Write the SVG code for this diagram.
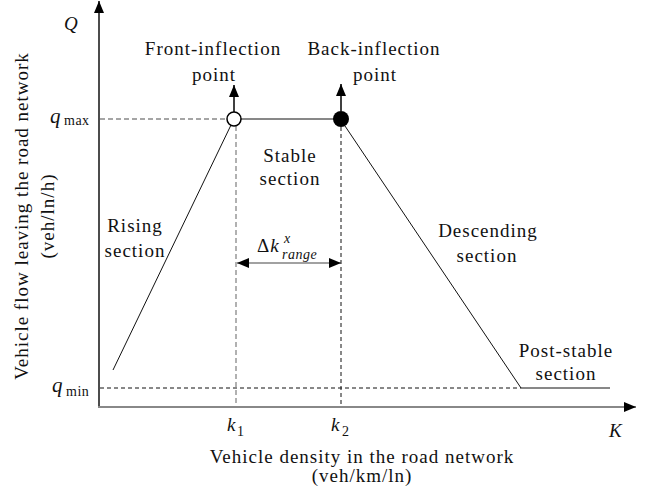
<svg xmlns="http://www.w3.org/2000/svg" width="656" height="496" viewBox="0 0 656 496">
<style>
text{font-family:"Liberation Serif","Times New Roman",serif;font-size:19px;letter-spacing:1px;fill:#111}
.c{text-anchor:middle}
.it{font-style:italic}
.sub{font-size:14px;letter-spacing:0.5px}
.ln{stroke:#111;stroke-width:1;fill:none}
.dg{stroke:#888;stroke-width:1.3;stroke-dasharray:5 3;fill:none}
.dk{stroke:#111;stroke-width:1;stroke-dasharray:4 3;fill:none}
</style>
<defs>
<marker id="ah" viewBox="0 0 12 10" refX="12" refY="5" markerWidth="12" markerHeight="10" markerUnits="userSpaceOnUse" orient="auto-start-reverse">
<path d="M0,0L12,5L0,10Z" fill="#000"/>
</marker>
</defs>
<g id="axes">
<line x1="99" y1="407" x2="99" y2="1" stroke="#111" stroke-width="1.5" marker-end="url(#ah)"/>
<line x1="98" y1="407" x2="636" y2="407" stroke="#888" stroke-width="2" marker-end="url(#ah)"/>
</g>
<g id="connectors">
<line class="dg" x1="100" y1="119" x2="227" y2="119"/>
<line class="dg" x1="236" y1="126" x2="236" y2="406"/>
<line class="dk" x1="341" y1="127" x2="341" y2="406"/>
<line class="dk" x1="100" y1="388" x2="521" y2="388"/>
<line class="ln" x1="241" y1="119" x2="334" y2="119"/>
<line class="ln" x1="113" y1="370" x2="231" y2="125"/>
<line class="ln" x1="345" y1="126" x2="521" y2="388"/>
<line class="ln" x1="521" y1="388" x2="610" y2="388"/>
<line x1="234" y1="112" x2="234" y2="85" stroke="#000" stroke-width="1.5" marker-end="url(#ah)"/>
<line x1="341" y1="111" x2="341" y2="84" stroke="#000" stroke-width="1.5" marker-end="url(#ah)"/>
<line x1="237" y1="263" x2="341" y2="263" stroke="#444" stroke-width="1.2" marker-start="url(#ah)" marker-end="url(#ah)"/>
</g>
<g id="front-point">
<circle cx="234" cy="119" r="7" fill="#fff" stroke="#000" stroke-width="1.5"/>
<text class="c" x="213" y="55">Front-inflection</text>
<text class="c" x="214" y="81">point</text>
</g>
<g id="back-point">
<circle cx="341" cy="119" r="8" fill="#000"/>
<text class="c" x="374" y="55">Back-inflection</text>
<text class="c" x="375" y="81">point</text>
</g>
<g id="stable">
<text class="c" x="290" y="162">Stable</text>
<text class="c" x="290" y="185">section</text>
</g>
<g id="rising">
<text class="c" x="135" y="232">Rising</text>
<text class="c" x="135" y="257">section</text>
</g>
<g id="descending">
<text class="c" x="488" y="237">Descending</text>
<text class="c" x="487" y="262">section</text>
</g>
<g id="post-stable">
<text class="c" x="566" y="357">Post-stable</text>
<text class="c" x="566" y="380">section</text>
</g>
<g id="delta-k">
<text x="257" y="252">Δ<tspan class="it">k</tspan></text>
<text class="it sub" x="284" y="243">x</text>
<text class="it sub" x="282" y="259">range</text>
</g>
<g id="labels">
<text class="it" x="64" y="30">Q</text>
<text class="it" style="font-size:21px" x="50" y="123">q</text>
<text class="sub" x="64" y="125">max</text>
<text class="it" style="font-size:21px" x="52" y="392">q</text>
<text class="sub" x="66" y="396">min</text>
<text class="it" x="227" y="431">k</text>
<text class="sub" x="237" y="436">1</text>
<text class="it" x="331" y="431">k</text>
<text class="sub" x="342" y="436">2</text>
<text class="it" x="609" y="437">K</text>
<text class="c" x="362" y="463">Vehicle density in the road network</text>
<text class="c" x="362" y="482">(veh/km/ln)</text>
<text class="c" transform="translate(28,216) rotate(-90)">Vehicle flow leaving the road network</text>
<text class="c" transform="translate(54,216) rotate(-90)">(veh/ln/h)</text>
</g>
</svg>
